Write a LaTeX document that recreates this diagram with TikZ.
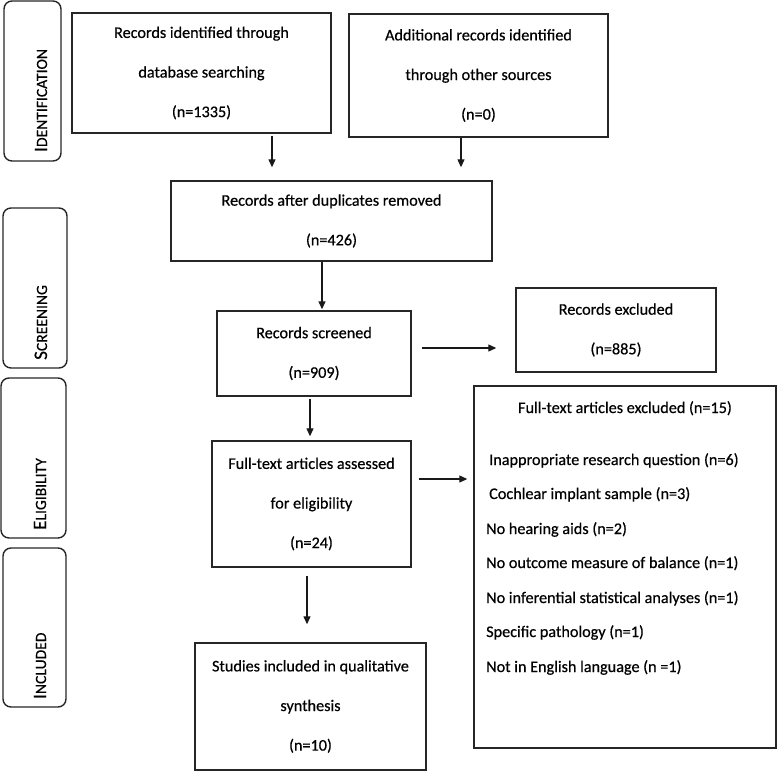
\documentclass[tikz,border=0pt]{standalone}
\usepackage{fontspec}
\setmainfont{Carlito}[FakeBold=0.5]
\usetikzlibrary{arrows.meta,calc}
\newcommand\fakesc[2]{{\fontsize{19}{19}\selectfont #1}{\fontsize{15.6}{15.6}\selectfont #2}}
\begin{document}
\begin{tikzpicture}[x=1pt,y=-1pt,
  box/.style={draw=black!85, line width=1.4pt, rectangle, inner sep=0pt,
              font=\fontsize{16.2}{39.6}\selectfont, align=center},
  phase/.style={draw=black!85, line width=1.4pt, rectangle, rounded corners=8pt, inner sep=0pt},
  plabel/.style={rotate=90, anchor=base west, inner sep=0pt},
  item/.style={anchor=base west, inner sep=0pt, font=\fontsize{16.2}{16.2}\selectfont},
  arr/.style={draw=black!90, line width=1.2pt, -{Triangle[length=8pt,width=7pt]}},
]
\useasboundingbox (0,0) rectangle (777,772);

% phase boxes
\node[phase, minimum width=57pt, minimum height=160pt] (pid) at (32.5,81) {};
\node[phase, minimum width=64pt, minimum height=160pt] (psc) at (35,288) {};
\node[phase, minimum width=65pt, minimum height=160pt] (pel) at (33.5,458) {};
\node[phase, minimum width=63pt, minimum height=159pt] (pin) at (34.5,627.5) {};
\node[plabel] (lid) at (47,152) {\fakesc{I}{DENTIFICATION}};
\node[plabel] (lsc) at (47,360) {\fakesc{S}{CREENING}};
\node[plabel] (lel) at (46,530) {\fakesc{E}{LIGIBILITY}};
\node[plabel] (lin) at (46,699) {\fakesc{I}{NCLUDED}};

% main boxes
\node[box, minimum width=259pt, minimum height=120pt] (b1) at (201.5,73)
  {Records identified through\\database searching\\(n=1335)};
\node[box, minimum width=259pt, minimum height=123pt] (b2) at (478.5,75.5)
  {Additional records identified\\through other sources\\(n=0)};
\node[box, minimum width=321pt, minimum height=80pt] (b3) at (331.5,221)
  {Records after duplicates removed\\(n=426)};
\node[box, minimum width=194pt, minimum height=85pt] (b4) at (314,353.5)
  {Records screened\\(n=909)};
\node[box, minimum width=200pt, minimum height=84pt] (b5) at (616,330)
  {Records excluded\\(n=885)};
\node[box, minimum width=199pt, minimum height=126pt] (b6) at (311.5,504)
  {Full-text articles assessed\\for eligibility\\(n=24)};
\node[box, minimum width=302pt, minimum height=362pt] (b7) at (625,567) {};
\node[box, minimum width=231pt, minimum height=127pt] (b8) at (310.5,706.5)
  {Studies included in qualitative\\synthesis\\(n=10)};

% exclusion list
\node[anchor=base, inner sep=0pt, font=\fontsize{16.2}{16.2}\selectfont] (h7) at (625,413) {Full-text articles excluded (n=15)};
\node[item] (i1) at (489,465) {Inappropriate research question (n=6)};
\node[item] (i2) at (489,499) {Cochlear implant sample (n=3)};
\node[item] (i3) at (486,534) {No hearing aids (n=2)};
\node[item] (i4) at (486,568) {No outcome measure of balance (n=1)};
\node[item] (i5) at (486,603) {No inferential statistical analyses (n=1)};
\node[item] (i6) at (486,637) {Specific pathology (n=1)};
\node[item] (i7) at (486,672) {Not in English language (n =1)};

% arrow guides
\coordinate (xa1) at (272,0);
\coordinate (xa2) at (461,0);
\coordinate (xa3) at (322,0);
\coordinate (xa4) at (310,0);
\coordinate (xa5) at (307,0);
\coordinate (ya6) at (0,348);
\coordinate (ya7) at (0,479);

\draw[arr, shorten <=2pt, shorten >=13pt] (b1.south -| xa1) -- (b3.north -| xa1);
\draw[arr, shorten <=0pt, shorten >=13pt] (b2.south -| xa2) -- (b3.north -| xa2);
\draw[arr, shorten >=1pt] (b3.south -| xa3) -- (b4.north -| xa3);
\draw[arr, shorten <=2pt, shorten >=4pt] (b4.south -| xa4) -- (b6.north -| xa4);
\draw[arr, shorten <=8pt, shorten >=18pt] (b6.south -| xa5) -- (b8.north -| xa5);
\draw[arr, shorten <=10pt, shorten >=19pt] (b4.east |- ya6) -- (b5.west |- ya6);
\draw[arr, shorten <=7pt, shorten >=6pt] (b6.east |- ya7) -- (b7.west |- ya7);
\end{tikzpicture}
\end{document}
